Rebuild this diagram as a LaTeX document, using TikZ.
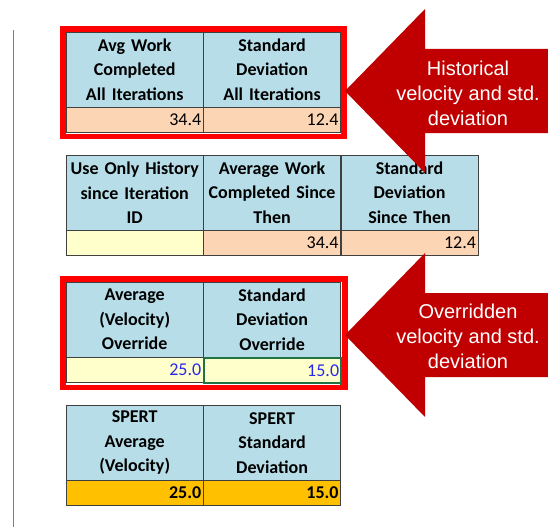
\documentclass[tikz,border=0pt]{standalone}
\usepackage{fontspec}
\setmainfont{Carlito}
\newfontfamily\arrowfont{Liberation Sans}
\definecolor{hdblue}{RGB}{183,222,232}
\definecolor{peach}{RGB}{252,213,180}
\definecolor{paleyel}{RGB}{255,255,204}
\definecolor{spertorange}{RGB}{255,192,0}
\definecolor{cellline}{RGB}{64,64,64}
\definecolor{framered}{RGB}{255,0,0}
\definecolor{arrowred}{RGB}{192,0,0}
\definecolor{inputblue}{RGB}{40,40,235}
\definecolor{selgreen}{RGB}{33,115,70}
\begin{document}
\begin{tikzpicture}[x=1pt,y=-1pt,
    hd/.style={draw=cellline,fill=hdblue,anchor=north west,inner sep=2pt,text width=133pt,
      minimum height=75pt,align=center,font=\bfseries\fontsize{18}{24.5}\selectfont},
    val/.style={draw=cellline,anchor=north west,inner sep=2pt,text width=133pt,
      minimum height=25pt,align=right,font=\fontsize{18}{20}\selectfont},
    redframe/.style={draw=framered,line width=5.5pt},
    arrtxt/.style={text=white,align=center,font=\arrowfont\fontsize{20}{25}\selectfont}]
  \useasboundingbox (0,0) rectangle (548,527);
  \draw[gray,line width=1pt] (13,30) -- (13,527);

  % historical
  \node[hd] (h1a) at (66,32) {Avg Work\\Completed\\All Iterations};
  \node[hd] (h1b) at (h1a.north east) {Standard\\Deviation\\All Iterations};
  \node[val,fill=peach] (v1a) at (h1a.south west) {34.4};
  \node[val,fill=peach] (v1b) at (h1b.south west) {12.4};

  % since iteration
  \node[hd] (h2a) at (66,155) {Use Only History\\since Iteration\\ID};
  \node[hd] (h2b) at (h2a.north east) {Average Work\\Completed Since\\Then};
  \node[hd] (h2c) at (h2b.north east) {Standard\\Deviation\\Since Then};
  \node[val,fill=paleyel] (v2a) at (h2a.south west) {};
  \node[val,fill=peach] (v2b) at (h2b.south west) {34.4};
  \node[val,fill=peach] (v2c) at (h2c.south west) {12.4};

  % override
  \node[hd] (h3a) at (66,282) {Average\\(Velocity)\\Override};
  \node[hd] (h3b) at (h3a.north east) {Standard\\Deviation\\Override};
  \node[val,fill=paleyel,text=inputblue] (v3a) at (h3a.south west) {25.0};
  \node[val,fill=paleyel,text=inputblue,draw=selgreen,line width=1.5pt] (v3b) at (h3b.south west) {15.0};
  \fill[selgreen] ([xshift=-2pt,yshift=-2pt]v3b.south east) rectangle ([xshift=1.5pt,yshift=1.5pt]v3b.south east);

  % spert
  \node[hd] (h4a) at (66,405) {SPERT\\Average\\(Velocity)};
  \node[hd] (h4b) at (h4a.north east) {SPERT\\Standard\\Deviation};
  \node[val,fill=spertorange,font=\bfseries\fontsize{18}{20}\selectfont] (v4a) at (h4a.south west) {25.0};
  \node[val,fill=spertorange,font=\bfseries\fontsize{18}{20}\selectfont] (v4b) at (h4b.south west) {15.0};

  \draw[redframe] ([xshift=-3pt,yshift=3pt]h1a.north west) rectangle ([xshift=3pt,yshift=-3.5pt]v1b.south east);
  \draw[redframe] ([xshift=-3pt,yshift=3pt]h3a.north west) rectangle ([xshift=3pt,yshift=-3.5pt]v3b.south east);

  \fill[arrowred] (345,91) -- (425,9) -- (425,49) -- (548,49) -- (548,133) -- (425,133) -- (425,173) -- cycle;
  \node[arrtxt] (histlbl) at (468,93) {Historical\\velocity and std.\\deviation};

  \fill[arrowred] (345,335) -- (425,253) -- (425,293) -- (548,293) -- (548,377) -- (425,377) -- (425,417) -- cycle;
  \node[arrtxt] (ovrlbl) at (468,336) {Overridden\\velocity and std.\\deviation};
\end{tikzpicture}
\end{document}
